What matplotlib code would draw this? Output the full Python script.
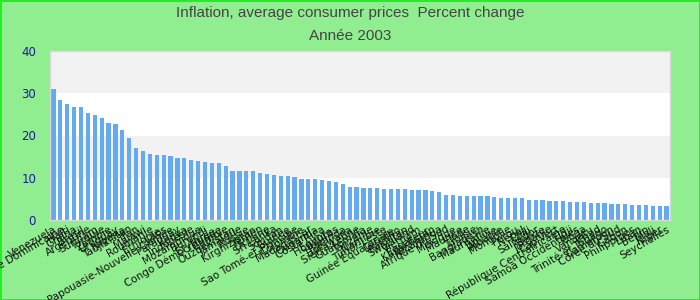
import matplotlib
matplotlib.use("Agg")
import matplotlib.pyplot as plt

# Inflation, prix à la consommation 2003 (%), trié par ordre décroissant
countries = [
    "Venezuela", "République Dominicaine", "Haïti", "Ghana", "Brésil",
    "Argentine", "Surinam", "Turquie", "Zambie", "Uruguay",
    "Nigeria", "Tadjikistan", "Iran", "Malawi", "Roumanie",
    "Éthiopie", "Laos", "Papouasie-Nouvelle-Guinée", "Paraguay", "Kenya",
    "Indonésie", "Mozambique", "Burundi", "Érythrée", "Congo Démocratique",
    "Gambie", "Ouzbékistan", "Jamaïque", "Russie", "Kirghizistan",
    "Yémen", "Ukraine", "Sri Lanka", "Soudan", "Guinée",
    "Sao Tomé-et-Principe", "Colombie", "Madagascar", "Ouganda", "Costa Rica",
    "Égypte", "Honduras", "Rwanda", "Botswana", "Sierra Leone",
    "Guatemala", "Tanzanie", "Namibie", "Timor-Leste", "Guinée Équatoriale",
    "Lesotho", "Pakistan", "Swaziland", "Vietnam", "Équateur",
    "Kazakhstan", "Nicaragua", "Afrique du Sud", "Mexique", "Maurice",
    "Inde", "Tunisie", "Bangladesh", "Mauritanie", "Bolivie",
    "Albanie", "Mongolie", "Pérou", "Népal", "Chili",
    "Salvador", "Belize", "Jordanie", "Cap-Vert", "République Centrafricaine",
    "Fidji", "Samoa Occidentales", "Tonga", "Vanuatu", "Tchad",
    "Trinité-et-Tobago", "Cameroun", "Corée du Sud", "Gabon", "Philippines",
    "Liban", "Bénin", "Mali", "Niger", "Seychelles",
]
inflation = [
    31.0, 28.4, 27.5, 26.7, 26.7, 25.3, 24.9, 24.1, 23.0, 22.7,
    21.3, 19.4, 17.0, 16.3, 15.6, 15.4, 15.4, 15.1, 14.7, 14.7,
    14.2, 14.0, 13.7, 13.5, 13.5, 12.8, 11.6, 11.6, 11.6, 11.6,
    11.1, 10.9, 10.6, 10.4, 10.4, 10.2, 9.7, 9.7, 9.7, 9.5,
    9.2, 9.0, 8.5, 7.8, 7.8, 7.6, 7.6, 7.6, 7.3, 7.3,
    7.3, 7.3, 7.1, 7.1, 7.1, 6.9, 6.6, 5.9, 5.9, 5.7,
    5.7, 5.7, 5.7, 5.7, 5.4, 5.2, 5.2, 5.2, 5.2, 4.7,
    4.7, 4.7, 4.5, 4.5, 4.5, 4.3, 4.3, 4.3, 4.0, 4.0,
    4.0, 3.8, 3.8, 3.8, 3.55, 3.55, 3.55, 3.3, 3.3, 3.3,
]
yticks = [0, 10, 20, 30, 40]

title_1 = "Inflation, average consumer prices  Percent change"
title_2 = "Année 2003"

fig = plt.figure(figsize=(7, 3), dpi=100)
fig.patch.set_facecolor("#90ee90")
fig.patch.set_edgecolor("#22ee22")
fig.patch.set_linewidth(2)

ax = fig.add_axes([50 / 700, 80 / 300, 620 / 700, 169 / 300])
ax.set_facecolor("white")

# bandes alternées
for i in range(len(yticks) - 1):
    if i % 2 == 1:
        ax.axhspan(yticks[i], yticks[i + 1], color="#f2f2f2", zorder=0, lw=0)

x = list(range(len(countries)))
ax.bar(x, inflation, width=0.6, color="#64aaf2", zorder=2)

ax.set_xlim(-0.5, len(countries) - 0.5)
ax.set_ylim(0, 40)
ax.set_yticks(yticks)
ax.set_xticks(x)
ax.set_xticklabels(countries, rotation=30, ha="right", rotation_mode="anchor",
                   fontsize=7.5, color="#111111", family="DejaVu Sans")
ax.tick_params(axis="x", length=0, pad=3)
ax.tick_params(axis="y", length=0, pad=10, labelsize=8.5, labelcolor="#1a1a9a")

for s in ax.spines.values():
    s.set_color("#d8d8d8")
    s.set_linewidth(1)

fig.text(0.5, 1 - 12.5 / 300, title_1, ha="center", va="center",
         fontsize=11, color="#444444", family="Liberation Sans")
fig.text(0.5, 1 - 36 / 300, title_2, ha="center", va="center",
         fontsize=11, color="#444444", family="Liberation Sans")

fig.savefig("out.png", dpi=100, facecolor=fig.get_facecolor(),
            edgecolor=fig.get_edgecolor())
